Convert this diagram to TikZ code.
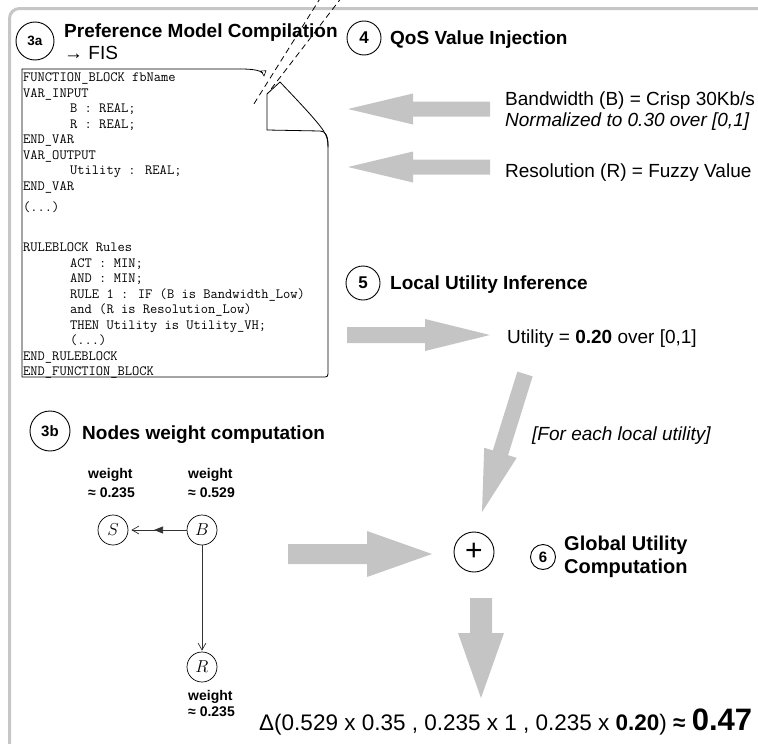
\documentclass[tikz,border=0pt]{standalone}
\usepackage{fontspec}
\setmainfont{Liberation Sans}
\usetikzlibrary{calc,arrows.meta}
\definecolor{arrowgray}{HTML}{C4C4C4}
\definecolor{framegray}{HTML}{C6C6C6}
\newcommand{\fatarr}[5]{%
  \coordinate (fah) at ($(#2)!#5!(#1)$);
  \fill[arrowgray] ($(#1)!#3!90:(#2)$) -- ($(fah)!#3!90:(#2)$) -- ($(fah)!#4!90:(#2)$) -- (#2)
    -- ($(fah)!#4!-90:(#2)$) -- ($(fah)!#3!-90:(#2)$) -- ($(#1)!#3!-90:(#2)$) -- cycle;}
\tikzset{
  title/.style={font=\bfseries\fontsize{19}{23}\selectfont, anchor=base west, inner sep=0pt},
  body/.style={font=\fontsize{19}{23}\selectfont, anchor=base west, inner sep=0pt},
  code/.style={font=\ttfamily\fontsize{14.1}{15.5}\selectfont, anchor=base west, inner sep=0pt},
  num/.style={draw, circle, line width=0.9pt, inner sep=0pt, font=\bfseries\fontsize{17}{17}\selectfont},
  gnode/.style={draw, circle, line width=0.7pt, inner sep=0pt, minimum size=30pt, font=\fontsize{19}{19}\selectfont},
  wlab/.style={font=\bfseries\fontsize{14}{15}\selectfont, anchor=base west, inner sep=0pt},
  paper/.style={draw=black, line width=0.8pt},
  dashline/.style={draw=black, line width=0.8pt, dash pattern=on 6pt off 4pt},
  gedge/.style={draw=black!80, line width=0.7pt},
}
\begin{document}
\begin{tikzpicture}[x=1pt,y=-1pt]
\useasboundingbox (0,0) rectangle (758,744);
% frame
\draw[framegray, line width=3pt, rounded corners=10pt] (9.5,760) -- (9.5,8.5) -- (775,8.5);

% ---- 3a title
\node[num, minimum size=38pt, font=\bfseries\fontsize{13.5}{13.5}\selectfont] (n3a) at (35,41) {3a};
\node[title] (t3a) at (64,37) {Preference Model Compilation};
\node[body] (fis) at (64,59) {→ FIS};

% ---- document with page curl
\draw[paper] (240,69) -- (22,69) -- (22,377) -- (325,377) .. controls (327,377) and (328,376) .. (328,374) -- (328,145);
\draw[paper] (240,69) .. controls (252,69) and (259,70) .. (263,73);
\draw[paper, line width=0.6pt] (261,71) -- (266,70.7) -- (264,76) -- cycle;
\draw[paper] (280,82) -- (267,94) -- (267,130) -- (320,131) .. controls (325,131) and (328,135) .. (328,145);
\draw[paper] (280,82) .. controls (300,103) and (316,120) .. (323,130) .. controls (327,136) and (328,140) .. (328,147);
\draw[dashline] (321,-3) -- (252,107);
\draw[dashline] (342,-3) -- (268,93);

\node[code] (c1) at (23,81.5) {FUNCTION\_BLOCK fbName};
\node[code] (c2) at (23,97) {VAR\_INPUT};
\node[code] (c3) at (70,112.5) {B : REAL;};
\node[code] (c4) at (70,128) {R : REAL;};
\node[code] (c5) at (23,143.5) {END\_VAR};
\node[code] (c6) at (23,159) {VAR\_OUTPUT};
\node[code] (c7) at (70,174.5) {Utility : REAL;};
\node[code] (c8) at (23,190) {END\_VAR};
\node[code] (c9) at (23,211) {(...)};
\node[code] (c10) at (23,251.5) {RULEBLOCK Rules};
\node[code] (c11) at (70,267) {ACT : MIN;};
\node[code] (c12) at (70,282.5) {AND : MIN;};
\node[code] (c13) at (70,298) {RULE 1 : IF (B is Bandwidth\_Low)};
\node[code] (c14) at (70,313.5) {and (R is Resolution\_Low)};
\node[code] (c15) at (70,329) {THEN Utility is Utility\_VH;};
\node[code] (c16) at (70,344.5) {(...)};
\node[code] (c17) at (23,360) {END\_RULEBLOCK};
\node[code] (c18) at (23,375.5) {END\_FUNCTION\_BLOCK};

% ---- 4
\node[num, minimum size=34pt] (n4) at (364,38) {4};
\node[title] (t4) at (390,44) {QoS Value Injection};
\node[body] (bw) at (505,105) {Bandwidth (B) = Crisp 30Kb/s};
\node[body, font=\itshape\fontsize{19}{23}\selectfont] (norm) at (505,126) {Normalized to 0.30 over [0,1]};
\node[body] (res) at (505,177) {Resolution (R) = Fuzzy Value};
\coordinate (a1s) at (490,109); \coordinate (a1t) at (348,109);
\coordinate (a2s) at (490,167); \coordinate (a2t) at (348,167);
\fatarr{a1s}{a1t}{7.5pt}{15.5pt}{65pt}
\fatarr{a2s}{a2t}{7.5pt}{15.5pt}{65pt}

% ---- 5
\node[num, minimum size=34pt] (n5) at (363,283) {5};
\node[title] (t5) at (390,289) {Local Utility Inference};
\node[body] (util) at (507,343) {Utility = \textbf{0.20} over [0,1]};
\coordinate (a3s) at (347,335); \coordinate (a3t) at (490,335);
\fatarr{a3s}{a3t}{8pt}{16pt}{65pt}
\coordinate (a4s) at (525,374); \coordinate (a4t) at (482,512);
\fatarr{a4s}{a4t}{8pt}{17pt}{62pt}
\node[body, font=\itshape\fontsize{19}{23}\selectfont] (each) at (532,440) {[For each local utility]};

% ---- 3b
\node[num, minimum size=40pt, font=\bfseries\fontsize{15}{15}\selectfont] (n3b) at (50,431) {3b};
\node[title] (t3b) at (82,439) {Nodes weight computation};
\node[wlab] (wS1) at (88,478) {weight};
\node[wlab] (wS2) at (88,497) {≈ 0.235};
\node[wlab] (wB1) at (188,478) {weight};
\node[wlab] (wB2) at (188,497) {≈ 0.529};
\node[gnode] (S) at (113,530) {$S$};
\node[gnode] (B) at (202,530) {$B$};
\node[gnode] (R) at (202,667) {$R$};
\node[wlab] (wR1) at (188,700) {weight};
\node[wlab] (wR2) at (188,716) {≈ 0.235};
\coordinate (mid) at (154,530);
\draw[gedge, shorten >=3pt, -{Straight Barb[length=7pt,width=8pt]}] (B) -- (S);
\draw[gedge, -{Triangle[length=9pt,width=7pt]}] (B) -- (mid);
\draw[gedge, shorten >=1pt, -{Straight Barb[length=7pt,width=8pt]}] (B) -- (R);

% ---- 6
\node[draw, circle, line width=0.9pt, minimum size=40pt, inner sep=0pt, font=\fontsize{30}{30}\selectfont] (plus) at (474,552) {+};
\node[num, minimum size=25pt, font=\bfseries\fontsize{15}{15}\selectfont] (n6) at (543,557) {6};
\node[title, anchor=west, align=left, font=\bfseries\fontsize{20}{23}\selectfont] (t6) at (564,557) {Global Utility\\Computation};
\coordinate (a5s) at (288,554); \coordinate (a5t) at (432,554);
\fatarr{a5s}{a5t}{10pt}{23pt}{65pt}
\coordinate (a6s) at (481,598); \coordinate (a6t) at (481,698);
\fatarr{a6s}{a6t}{11pt}{23pt}{65pt}

\node[anchor=base west, inner sep=0pt, font=\fontsize{22.5}{26}\selectfont] (delta) at (259,730)
  {Δ(0.529 x 0.35 , 0.235 x 1 , 0.235 x \textbf{0.20}) \textbf{≈} {\bfseries\fontsize{31}{31}\selectfont 0.47}};
\end{tikzpicture}
\end{document}
